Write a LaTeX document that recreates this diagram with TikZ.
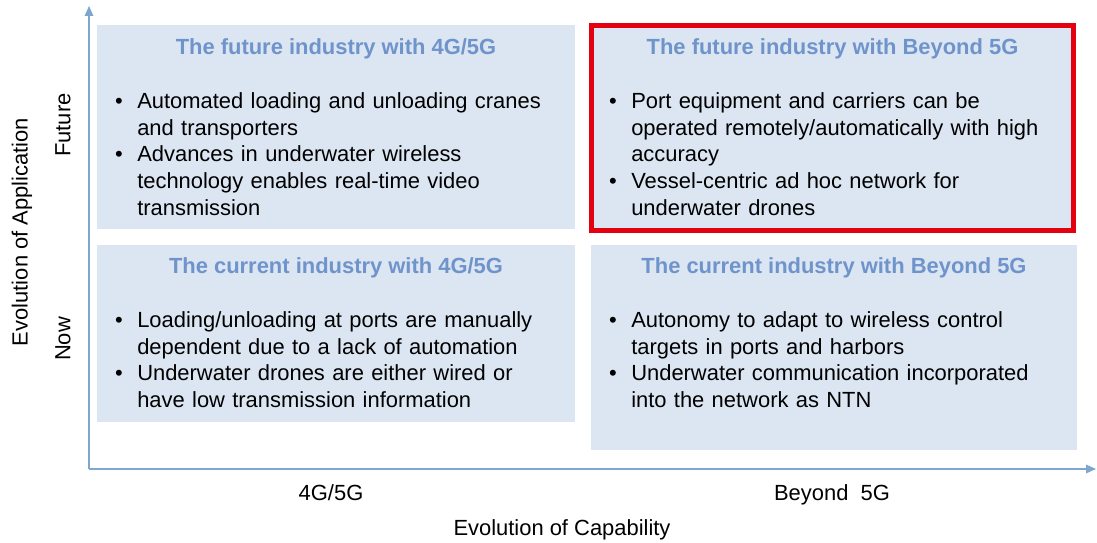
\documentclass[tikz,border=0pt]{standalone}
\usepackage{fontspec}
\setmainfont{Liberation Sans}
\usetikzlibrary{arrows.meta,positioning}
\definecolor{cellfill}{HTML}{DCE6F2}
\definecolor{headblue}{HTML}{6F94CB}
\definecolor{axisblue}{HTML}{7EA6CF}
\definecolor{alertred}{HTML}{E3000F}
\newcommand{\bl}{\leavevmode\llap{\textbullet\hspace{3.6mm}}}

\begin{document}
\begin{tikzpicture}[x=0.25mm, y=-0.25mm,
  cell/.style={rectangle, fill=cellfill, inner sep=0pt},
  hot/.style={cell, draw=alertred, line width=3.5pt},
  ttl/.style={anchor=base, font=\fontsize{15.6}{19.2}\selectfont\bfseries, text=headblue},
  body/.style={anchor=base west, text width=120mm, align=left, inner sep=0pt, font=\fontsize{15.6}{19.2}\selectfont},
  lbl/.style={font=\fontsize{15.6}{19.2}\selectfont},
  axis/.style={-{Triangle[length=7pt,width=6pt]}, line width=1pt, axisblue}
]
  \useasboundingbox (0,0) rectangle (1097,542);
  % quadrants
  \node[cell, minimum width=119.5mm, minimum height=51mm]   (fut4) at (336,127)   {};
  \node[hot,  minimum width=120.5mm, minimum height=51.25mm] (futb) at (832.5,128) {};
  \node[cell, minimum width=119.5mm, minimum height=44.25mm] (cur4) at (336,333.5) {};
  \node[cell, minimum width=121.5mm, minimum height=51.25mm] (curb) at (834,347.5) {};
  \node[ttl] (fut4t) at (336,54)   {The future industry with 4G/5G};
  \node[ttl] (futbt) at (832.5,54) {The future industry with Beyond 5G};
  \node[ttl] (cur4t) at (336,273)  {The current industry with 4G/5G};
  \node[ttl] (curbt) at (834,273)  {The current industry with Beyond 5G};
  \node[body] (fut4b) at (137,108) {\bl Automated loading and unloading cranes\\ and transporters\\ \bl Advances in underwater wireless\\ technology enables real-time video\\ transmission};
  \node[body] (futbb) at (631,108) {\bl Port equipment and carriers can be\\ operated remotely/automatically with high\\ accuracy\\ \bl Vessel-centric ad hoc network for\\ underwater drones};
  \node[body] (cur4b) at (137,327) {\bl Loading/unloading at ports are manually\\ dependent due to a lack of automation\\ \bl Underwater drones are either wired or\\ have low transmission information};
  \node[body] (curbb) at (631,327) {\bl Autonomy to adapt to wireless control\\ targets in ports and harbors\\ \bl Underwater communication incorporated\\ into the network as NTN};
  % axes
  \coordinate (o) at (89,469);
  \coordinate (ytip) at (89,6);
  \coordinate (xtip) at (1096,469);
  \draw[axis] (o) -- (ytip);
  \draw[axis] (o) -- (xtip);
  \node[lbl, anchor=base] (cap4) at (331,500) {4G/5G};
  \node[lbl, anchor=base] (capb) at (832,500) {Beyond\ \ 5G};
  \node[lbl, anchor=base] (capx) at (562,535) {Evolution of Capability};
  \node[lbl, rotate=90] (appy) at (22,232) {Evolution of Application};
  \node[lbl, rotate=90] (futy) at (63,125) {Future};
  \node[lbl, rotate=90] (nowy) at (63,339) {Now};
\end{tikzpicture}
\end{document}
